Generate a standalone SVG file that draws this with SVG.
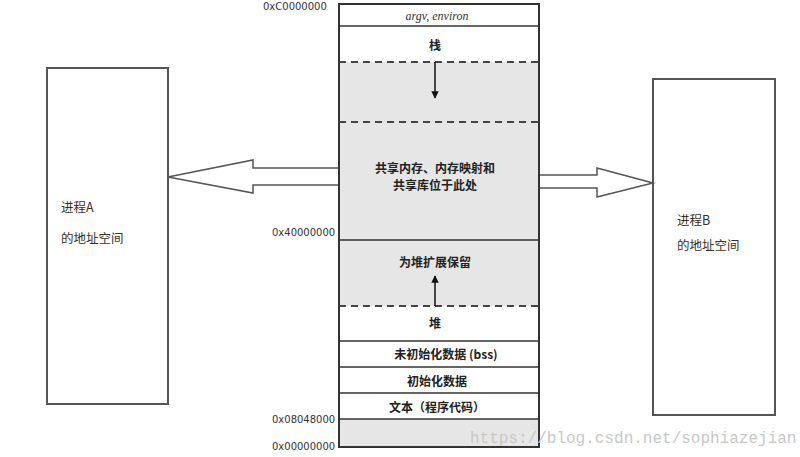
<svg xmlns="http://www.w3.org/2000/svg" width="800" height="457" viewBox="0 0 800 457">
<style>
.box{fill:#fff;stroke:#555;stroke-width:2}
.seg{stroke:#333;stroke-width:1.5;fill:none}
.dash{stroke:#444;stroke-width:2;stroke-dasharray:7,5;fill:none}
.gray{fill:#e6e6e6}
.cn{font-family:"Noto Sans CJK SC","Liberation Serif",serif;font-size:12px;fill:#222;text-anchor:middle;font-weight:bold}
.addr{font-family:"DejaVu Sans","Liberation Sans",sans-serif;font-size:10px;fill:#333}
.proc{font-family:"Noto Sans CJK SC","Liberation Sans",sans-serif;font-size:12.5px;fill:#3a3020}
.arrow{fill:#fff;stroke:#555;stroke-width:1.5}
.wm{font-family:"Liberation Mono","DejaVu Sans Mono",monospace;font-size:16px;fill:#c8c8c8}
</style>
<defs>
<marker id="ah" viewBox="0 0 10 10" refX="9" refY="5" markerWidth="5" markerHeight="6" orient="auto"><path d="M0,0 L10,5 L0,10 z" fill="#111"/></marker>
</defs>
<rect width="800" height="457" fill="#fff"/>
<g id="memory">
<rect x="339" y="4" width="200" height="443" fill="#fff" stroke="none"/>
<rect class="gray" x="339" y="62" width="200" height="244"/>
<rect class="gray" x="339" y="419" width="200" height="28"/>
<rect x="339" y="4" width="200" height="443" fill="none" stroke="#333" stroke-width="2"/>
<line class="seg" x1="339" y1="26" x2="539" y2="26"/>
<line class="dash" x1="339" y1="62" x2="539" y2="62"/>
<line class="dash" x1="339" y1="122" x2="539" y2="122"/>
<line class="seg" x1="339" y1="240" x2="539" y2="240"/>
<line class="dash" x1="339" y1="306" x2="539" y2="306"/>
<line class="seg" x1="339" y1="341" x2="539" y2="341"/>
<line class="seg" x1="339" y1="367" x2="539" y2="367"/>
<line class="seg" x1="339" y1="393" x2="539" y2="393"/>
<line class="seg" x1="339" y1="419" x2="539" y2="419"/>
<text x="437" y="20" font-family="Liberation Serif,serif" font-style="italic" font-size="12" fill="#333" text-anchor="middle">argv, environ</text>
<text class="cn" x="435" y="50">栈</text>
<text class="cn" x="435" y="173">共享内存、内存映射和</text>
<text class="cn" x="435" y="190">共享库位于此处</text>
<text class="cn" x="435" y="267">为堆扩展保留</text>
<text class="cn" x="435" y="328">堆</text>
<text class="cn" x="446" y="359">未初始化数据 (bss)</text>
<text class="cn" x="437" y="386">初始化数据</text>
<text class="cn" x="437" y="412">文本（程序代码）</text>
</g>
<g id="labels">
<text class="addr" x="263" y="10">0xC0000000</text>
<text class="addr" x="272" y="236">0x40000000</text>
<text class="addr" x="272" y="423">0x08048000</text>
<text class="addr" x="272" y="450">0x00000000</text>
</g>
<g id="procA">
<rect class="box" x="47" y="68" width="121" height="336"/>
<text class="proc" x="61" y="212">进程A</text>
<text class="proc" x="61" y="243">的地址空间</text>
</g>
<g id="procB">
<rect class="box" x="653" y="79" width="122" height="336"/>
<text class="proc" x="677" y="225">进程B</text>
<text class="proc" x="677" y="250">的地址空间</text>
</g>
<g id="connectors">
<line x1="435" y1="62" x2="435" y2="98" stroke="#111" stroke-width="1.5" marker-end="url(#ah)"/>
<line x1="435" y1="306" x2="435" y2="276" stroke="#111" stroke-width="1.5" marker-end="url(#ah)"/>
<path class="arrow" d="M338,168 L253,168 L253,160 L168,177 L253,193 L253,185 L338,185"/>
<path class="arrow" d="M540,175 L597,175 L597,168 L653,183 L597,197 L597,188 L540,188"/>
</g>
<text class="wm" x="470" y="443">https://blog.csdn.net/sophiazejian</text>
</svg>
